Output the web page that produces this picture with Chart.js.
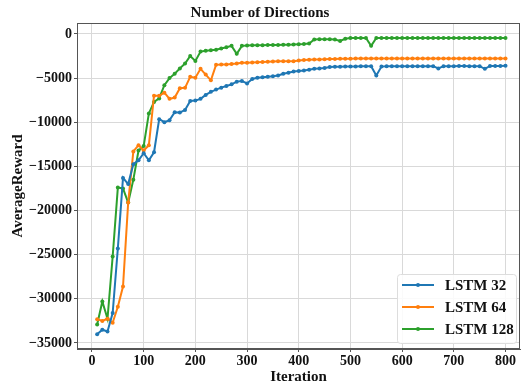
<!DOCTYPE html>
<html>
<head>
<meta charset="utf-8">
<script src="https://cdn.jsdelivr.net/npm/chart.js@4"></script>
<style>
  html, body { margin: 0; padding: 0; background: #fff; }
  #wrap { width: 522px; height: 386px; }
</style>
</head>
<body>
<div id="wrap"><canvas id="chart" width="522" height="386"></canvas></div>
<script>
const iterations = [];
for (let i = 10; i <= 800; i += 10) iterations.push(i);

const lstm32 = [
  -34000, -33500, -33700, -31600, -24300, -16300, -17000, -14750, -14300, -13500,
  -14300, -13400, -9650, -9990, -9760, -8860, -8900, -8600, -7580, -7550,
  -7350, -6900, -6550, -6300, -6080, -5900, -5710, -5400, -5330, -5600,
  -5100, -4950, -4900, -4850, -4800, -4700, -4500, -4400, -4250, -4200,
  -4150, -4050, -3950, -3900, -3850, -3750, -3720, -3720, -3700, -3700,
  -3680, -3650, -3650, -3650, -4700, -3700, -3650, -3650, -3650, -3650,
  -3650, -3650, -3650, -3650, -3650, -3650, -3900, -3650, -3650, -3650,
  -3620, -3620, -3650, -3650, -3650, -3950, -3620, -3620, -3620, -3600
];

const lstm64 = [
  -32300, -32500, -32250, -32700, -30900, -28600, -19100, -13300, -12600, -13200,
  -12600, -7000, -7000, -6650, -7350, -7200, -6150, -6100, -4850, -4950,
  -3950, -4600, -5250, -3500, -3450, -3450, -3400, -3350, -3250, -3250,
  -3230, -3200, -3180, -3150, -3130, -3100, -3100, -3080, -3080, -3000,
  -2950, -2920, -2900, -2880, -2870, -2850, -2830, -2820, -2800, -2800,
  -2780, -2780, -2780, -2780, -2780, -2780, -2780, -2780, -2780, -2780,
  -2780, -2780, -2780, -2780, -2780, -2780, -2780, -2780, -2780, -2780,
  -2780, -2780, -2780, -2780, -2780, -2780, -2780, -2780, -2780, -2780
];

const lstm128 = [
  -32900, -30300, -32250, -25200, -17400, -17500, -19100, -16500, -13200, -12700,
  -9000, -7700, -7300, -5800, -5000, -4500, -3900, -3350, -2500, -3050,
  -2000, -1900, -1850, -1800, -1650, -1500, -1350, -2250, -1350, -1300,
  -1290, -1280, -1270, -1260, -1250, -1240, -1230, -1220, -1200, -1180,
  -1150, -1080, -620, -600, -600, -600, -620, -800, -550, -470,
  -450, -450, -450, -1350, -450, -450, -450, -450, -450, -450,
  -450, -450, -450, -450, -450, -450, -450, -450, -450, -450,
  -450, -450, -450, -450, -450, -450, -450, -450, -450, -450
];

const xTicks = [0, 100, 200, 300, 400, 500, 600, 700, 800];
const yTicks = [-35000, -30000, -25000, -20000, -15000, -10000, -5000, 0];

const serif = "'Liberation Serif', 'Times New Roman', serif";

function toPoints(values) {
  return values.map((v, i) => ({ x: iterations[i], y: v }));
}

function series(label, values, color) {
  return {
    label: label,
    data: toPoints(values),
    borderColor: color,
    backgroundColor: color,
    borderWidth: 2,
    pointRadius: 2,
    pointHoverRadius: 2,
    pointBorderWidth: 0,
    tension: 0
  };
}

// frame around plot + legend box in the lower right
const framePlugin = {
  id: "frame",
  afterDatasetsDraw(chart) {
    const { ctx, chartArea: a } = chart;
    ctx.save();
    ctx.strokeStyle = "#555";
    ctx.lineWidth = 1;
    ctx.strokeRect(a.left + 0.5, a.top + 0.5, a.right - a.left - 1, a.bottom - a.top - 1);

    // legend
    const x0 = 397, y0 = 274, w = 119, h = 69;
    ctx.fillStyle = "rgba(255,255,255,0.85)";
    ctx.strokeStyle = "#ddd";
    ctx.beginPath();
    ctx.roundRect(x0 + 0.5, y0 + 0.5, w, h, 3);
    ctx.fill();
    ctx.stroke();
    chart.data.datasets.forEach((ds, i) => {
      const y = y0 + 11 + i * 22;
      ctx.strokeStyle = ds.borderColor;
      ctx.lineWidth = 2;
      ctx.beginPath();
      ctx.moveTo(402, y);
      ctx.lineTo(434, y);
      ctx.stroke();
      ctx.fillStyle = ds.borderColor;
      ctx.beginPath();
      ctx.arc(418, y, 2, 0, Math.PI * 2);
      ctx.fill();
      ctx.fillStyle = "#111";
      ctx.font = "bold 15px " + serif;
      ctx.textBaseline = "middle";
      ctx.fillText(ds.label, 445, y + 1);
    });
    ctx.restore();
  }
};

new Chart(document.getElementById("chart"), {
  type: "line",
  data: {
    datasets: [
      series("LSTM 32", lstm32, "#1f77b4"),
      series("LSTM 64", lstm64, "#ff7f0e"),
      series("LSTM 128", lstm128, "#2ca02c")
    ]
  },
  options: {
    responsive: false,
    animation: false,
    layout: { padding: { left: 0, right: 2, top: 0, bottom: 0 } },
    plugins: {
      legend: { display: false },
      tooltip: { enabled: false },
      title: {
        display: true,
        text: "Number of Directions",
        color: "#111",
        font: { family: serif, size: 15, weight: "bold" },
        padding: { top: 4, bottom: 1 }
      }
    },
    scales: {
      x: {
        type: "linear",
        min: -29,
        max: 828,
        afterBuildTicks: axis => { axis.ticks = xTicks.map(v => ({ value: v })); },
        afterFit: axis => { axis.height = 37; },
        grid: { color: "#d9d9d9", tickColor: "#555", tickLength: 3, drawTicks: true },
        border: { color: "#555" },
        ticks: {
          color: "#111",
          padding: 1,
          maxRotation: 0,
          font: { family: serif, size: 14, weight: "bold" }
        },
        title: {
          display: true,
          text: "Iteration",
          color: "#111",
          font: { family: serif, size: 15, weight: "bold" },
          padding: { top: -2, bottom: 0 }
        }
      },
      y: {
        type: "linear",
        min: -35680,
        max: 1240,
        afterBuildTicks: axis => { axis.ticks = yTicks.map(v => ({ value: v })); },
        afterFit: axis => { axis.width = 77; },
        grid: { color: "#d9d9d9", tickColor: "#555", tickLength: 3, drawTicks: true },
        border: { color: "#555" },
        ticks: {
          color: "#111",
          padding: 2,
          font: { family: serif, size: 14, weight: "bold" },
          callback: v => (v < 0 ? "\u2212" + Math.abs(v) : String(v))
        },
        title: {
          display: true,
          text: "AverageReward",
          color: "#111",
          font: { family: serif, size: 15, weight: "bold" },
          padding: { top: 9, bottom: 0 }
        }
      }
    }
  },
  plugins: [framePlugin]
});
</script>
</body>
</html>
